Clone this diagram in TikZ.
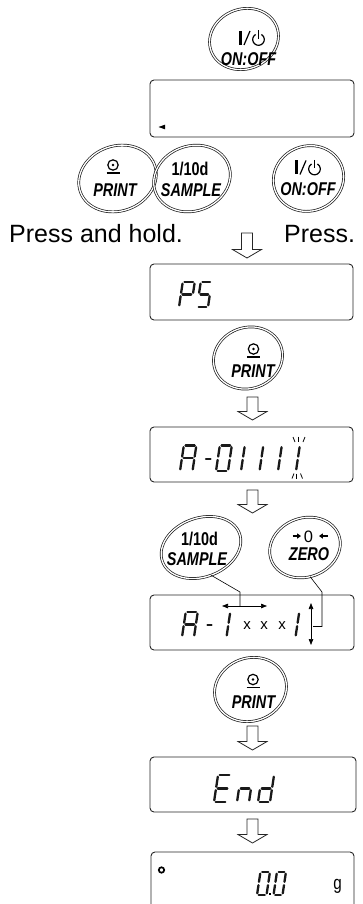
\documentclass[tikz,border=0pt]{standalone}
\usepackage{fontspec}
\setmainfont{Liberation Sans}
\usepackage{graphicx}
\usetikzlibrary{arrows.meta,shapes.geometric}

\tikzset{
  keyoval/.style={ellipse, draw=black!90, double=white, double distance=1.3pt, line width=0.7pt, inner sep=0pt, outer sep=0pt, rotate=20},
  lcdbox/.style={rectangle, draw=black!85, line width=0.9pt, rounded corners=4pt, inner sep=0pt},
  lcdseg/.style={line width=2.3pt, line cap=round, draw=black!90},
  blockarrow/.style={draw=black!85, line width=0.8pt, fill=white, line join=miter},
  conn/.style={draw=black, line width=0.6pt},
  dblarrow/.style={draw=black, line width=0.7pt, {Triangle[length=6pt,width=4.5pt]}-{Triangle[length=6pt,width=4.5pt]}},
  keylabel/.style={inner sep=0pt, font=\fontsize{18.5}{19}\selectfont\bfseries},
  smalltick/.style={line width=0.8pt},
}

\def\SegH{26}\def\SegW{12}\def\SegG{1.7}
\newcommand\Sega{\draw[lcdseg] (\SegG,-\SegH) -- ({\SegW-\SegG},-\SegH);}
\newcommand\Segb{\draw[lcdseg] (\SegW,{-\SegH+\SegG}) -- (\SegW,{-\SegH/2-\SegG});}
\newcommand\Segc{\draw[lcdseg] (\SegW,{-\SegH/2+\SegG}) -- (\SegW,-\SegG);}
\newcommand\Segd{\draw[lcdseg] (\SegG,0) -- ({\SegW-\SegG},0);}
\newcommand\Sege{\draw[lcdseg] (0,-\SegG) -- (0,{-\SegH/2+\SegG});}
\newcommand\Segf{\draw[lcdseg] (0,{-\SegH/2-\SegG}) -- (0,{-\SegH+\SegG});}
\newcommand\Segg{\draw[lcdseg] (\SegG,{-\SegH/2}) -- ({\SegW-\SegG},{-\SegH/2});}
\newcommand\lcdchar[4]{\begin{scope}[shift={(#1,#2)},xslant=0.15]\def\SegW{#3}\foreach \s in {#4}{\csname Seg\s\endcsname}\end{scope}}

\newcommand\powersym[2]{%
  \draw[line width=2.5pt] ({#1-11},{#2-7}) -- ({#1-11},{#2+7});
  \draw[line width=1.2pt] ({#1-7.5},{#2+7}) -- ({#1-1.5},{#2-7});
  \draw[line width=1.2pt] ({#1+7},{#2+1.5}) ++(120:5.8pt) arc[start angle=120, end angle=420, radius=5.8pt];
  \draw[line width=1.2pt] ({#1+7},{#2-7.5}) -- ({#1+7},{#2+1});
}
\newcommand\printsym[2]{%
  \draw[line width=1.2pt] (#1,#2) circle[radius=5.2pt];
  \fill (#1,#2) circle[radius=1.4pt];
  \draw[line width=1.5pt] ({#1-6.5},{#2+7.8}) -- ({#1+6.5},{#2+7.8});
}
\newcommand\blockarr[3]{%
  \draw[blockarrow] ({#1-5.5},#2) -- ({#1+5.5},#2) -- ({#1+5.5},{#3-8.5}) -- ({#1+14.5},{#3-8.5}) -- (#1,#3) -- ({#1-14.5},{#3-8.5}) -- ({#1-5.5},{#3-8.5}) -- cycle;}
\newcommand\keyword[1]{\scalebox{0.78}[1]{\itshape #1}}
\newcommand\keynum[1]{\scalebox{0.78}[1]{#1}}

\begin{document}
\begin{tikzpicture}[x=1pt,y=-1pt]
\useasboundingbox (0,0) rectangle (363,904);

% ---- row 1
\node[keyoval, minimum width=70, minimum height=60] (k1) at (244,39) {};
\powersym{251.5}{38}
\node[keylabel] (k1t) at (248.5,59) {\keyword{ON:OFF}};
\node[lcdbox, minimum width=204, minimum height=57] (d1) at (252,108.5) {};
\fill (158.5,127) -- (165,124.7) -- (165,129.3) -- cycle;

% ---- row 2
\node[keyoval, minimum width=79, minimum height=65] (k2a) at (117.5,178.5) {};
\printsym{113}{165}
\node[keylabel] (k2at) at (115,190) {\keyword{PRINT}};
\node[keyoval, minimum width=78, minimum height=65] (k2b) at (192,178.5) {};
\node[keylabel] (k2bn) at (190,168.5) {\keynum{1/10d}};
\node[keylabel] (k2bt) at (191,190) {\keyword{SAMPLE}};
\node[keyoval, minimum width=71, minimum height=65] (k2c) at (308.5,178.5) {};
\powersym{307.5}{167.5}
\node[keylabel] (k2ct) at (308,189) {\keyword{ON:OFF}};

\node[anchor=base west, inner sep=0pt, font=\fontsize{25}{26}\selectfont] (t1) at (9,242) {Press and hold.};
\node[anchor=base west, inner sep=0pt, font=\fontsize{25}{26}\selectfont] (t2) at (284,242) {Press.};

\blockarr{247}{233}{258}

% ---- PS
\node[lcdbox, minimum width=203, minimum height=56] (d2) at (251.5,292) {};
\def\SegH{25}
\lcdchar{179}{307}{12}{a,b,e,f,g}
\lcdchar{197}{307}{11}{a,f,g,c,d}

\node[keyoval, minimum width=70, minimum height=61] (k3) at (248,358) {};
\printsym{253.5}{349}
\node[keylabel] (k3t) at (253,371.5) {\keyword{PRINT}};

\blockarr{252.5}{397}{420}

% ---- A-01111
\node[lcdbox, minimum width=203, minimum height=55] (d3) at (251.5,454.5) {};
\def\SegH{25.5}
\lcdchar{180}{471}{12.5}{a,b,c,e,f,g}
\draw[lcdseg] (206,459) -- (210.5,459);
\lcdchar{216}{471}{12}{a,b,c,d,e,f}
\lcdchar{241}{471}{0}{b,c}
\lcdchar{259.5}{471}{0}{b,c}
\lcdchar{278}{471}{0}{b,c}
\lcdchar{296}{471}{0}{b,c}
\draw[smalltick] (293,437) -- (295,442);
\draw[smalltick] (298.6,436.5) -- (298.6,442);
\draw[smalltick] (305,437) -- (303,442);
\draw[smalltick] (292,478.5) -- (294,473.5);
\draw[smalltick] (296.3,473.5) -- (296.3,479);
\draw[smalltick] (302.5,478.5) -- (300.5,473.5);

\blockarr{252.5}{490}{513}

% ---- SAMPLE / ZERO
\node[keyoval, minimum width=82, minimum height=59] (k4a) at (201,547.5) {};
\node[keylabel] (k4an) at (199.5,539) {\keynum{1/10d}};
\node[keylabel] (k4at) at (197,559.5) {\keyword{SAMPLE}};
\node[keyoval, minimum width=72, minimum height=59] (k4b) at (305,547.5) {};
\draw[line width=1.3pt, -{Triangle[length=3.8pt,width=5pt]}] (292.5,536) -- (301,536);
\node[inner sep=0pt, font=\fontsize{16.5}{16}\selectfont] (k4bz) at (308.5,536.5) {0};
\draw[line width=1.3pt, -{Triangle[length=3.8pt,width=5pt]}] (327.5,536) -- (319,536);
\node[keylabel] (k4bt) at (309,554) {\keyword{ZERO}};

% ---- A-1xxx1
\node[lcdbox, minimum width=204, minimum height=55] (d4) at (252,622.5) {};
\def\SegH{25}
\lcdchar{182}{637}{12}{a,b,c,e,f,g}
\draw[lcdseg] (207.5,625) -- (211.5,625);
\lcdchar{226.5}{637}{0}{b,c}
\node[inner sep=0pt, font=\fontsize{15}{15}\selectfont] (x1) at (247,625.5) {x};
\node[inner sep=0pt, font=\fontsize{15}{15}\selectfont] (x2) at (264,625.5) {x};
\node[inner sep=0pt, font=\fontsize{15}{15}\selectfont] (x3) at (282,625.5) {x};
\lcdchar{295.5}{637}{0}{b,c}

\coordinate (harrL) at (222,606);
\coordinate (harrR) at (267,606);
\coordinate (harrM) at (240,606);
\coordinate (bend1) at (240,592);
\coordinate (varrT) at (311,603);
\coordinate (varrB) at (311,645);
\coordinate (varrM) at (313,626.5);
\coordinate (bend2) at (322,592);
\coordinate (bend3) at (322,626.5);
\draw[dblarrow] (harrL) -- (harrR);
\draw[dblarrow] (varrT) -- (varrB);
\draw[conn] (k4a.-90) -- (bend1) -- (harrM);
\draw[conn] (k4b.-100) -- (bend2) -- (bend3) -- (varrM);

% ---- PRINT
\node[keyoval, minimum width=73, minimum height=63] (k5) at (250.5,689.5) {};
\printsym{253}{679.5}
\node[keylabel] (k5t) at (253.5,702.5) {\keyword{PRINT}};

\blockarr{252.5}{726}{750}

% ---- End
\node[lcdbox, minimum width=206, minimum height=55] (d5) at (253,784.5) {};
\def\SegH{27}
\lcdchar{214}{802}{13}{a,d,e,f,g}
\lcdchar{237}{802}{12}{c,e,g}
\lcdchar{258}{802}{12}{b,c,d,e,g}

\blockarr{252.5}{819}{843}

% ---- 0.0 g
\begin{scope}
\clip (0,0) rectangle (363,904);
\node[lcdbox, minimum width=203, minimum height=110] (d6) at (252.5,907) {};
\end{scope}
\draw[line width=1.7pt] (161.5,870) circle[radius=2.7pt];
\def\SegH{23}
\lcdchar{257}{895}{9.5}{a,b,c,d,e,f}
\fill (268.8,893) rectangle (271.2,895.4);
\lcdchar{273.5}{895}{9}{a,b,c,d,e,f}
\node[anchor=base, inner sep=0pt, font=\fontsize{19}{19}\selectfont] (gunit) at (337.5,889.5) {\scalebox{0.8}[1]{g}};
\end{tikzpicture}
\end{document}
